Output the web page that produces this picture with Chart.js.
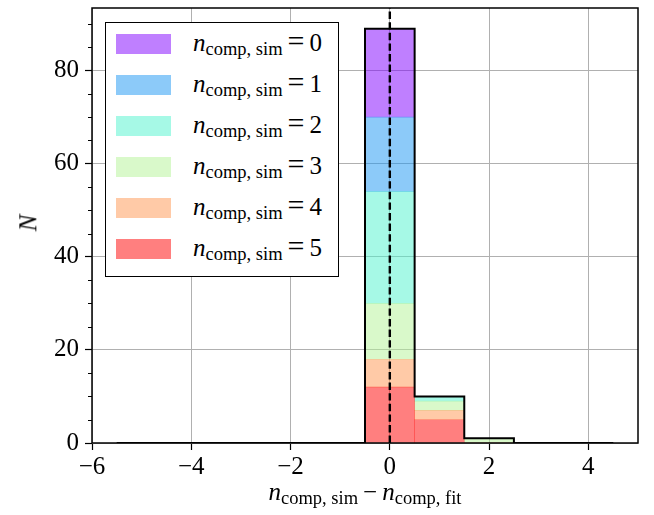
<!DOCTYPE html>
<html lang="en">
<head>
    <meta charset="UTF-8">
    <title>n_comp,sim - n_comp,fit histogram</title>
    <script src="https://cdn.jsdelivr.net/npm/chart.js"></script>
    <style>
        body {
            margin: 0;
            background: #fff;
        }

        #wrap {
            position: relative;
            width: 654px;
            height: 515px;
            font-family: "Liberation Serif", "DejaVu Serif", serif;
            color: #000;
        }

        #chart {
            position: absolute;
            left: 0;
            top: 0;
        }

        .math sub {
            font-style: normal;
            font-size: 18.5px;
            vertical-align: -4px;
            line-height: 0;
        }

        .math .eq {
            font-size: 30px;
            margin: 0 5px 0 5px;
        }

        #legend {
            position: absolute;
            left: 105px;
            top: 22px;
            width: 232px;
            height: 253px;
            border: 1.5px solid #000;
            background: #fff;
        }

        .legend-row {
            position: absolute;
            left: 0;
            height: 20px;
            width: 100%;
        }

        .legend-row .swatch {
            position: absolute;
            left: 10px;
            top: 0;
            width: 55px;
            height: 20px;
        }

        .legend-row .label {
            position: absolute;
            left: 87px;
            top: -8px;
            font-size: 25px;
            line-height: 30px;
            white-space: nowrap;
        }

        #xtitle {
            position: absolute;
            left: 215px;
            width: 300px;
            top: 477px;
            text-align: center;
            font-size: 25px;
            line-height: 30px;
            white-space: nowrap;
        }

        #xtitle .minus {
            margin: 0 5px;
        }

        #ytitle {
            position: absolute;
            left: 20px;
            top: 208px;
            font-size: 25px;
            line-height: 30px;
            font-style: italic;
            transform: rotate(-90deg);
        }
    </style>
</head>
<body>
    <div id="wrap">
        <canvas id="chart" width="654" height="515"></canvas>
        <div id="legend"></div>
        <div id="xtitle" class="math"><i>n</i><sub>comp, sim</sub><span class="minus">&minus;</span><i>n</i><sub>comp, fit</sub></div>
        <div id="ytitle">N</div>
    </div>

    <script>
        // bin centres of the histogram (bin width 1)
        const binCenters = [-5, -4, -3, -2, -1, 0, 1, 2, 3, 4];
        const binWidth = 1;

        // counts per n_comp,sim value, one array per stacked component
        const countsSim0 = [0, 0, 0, 0, 0, 19, 0, 0, 0, 0];
        const countsSim1 = [0, 0, 0, 0, 0, 16, 0, 0, 0, 0];
        const countsSim2 = [0, 0, 0, 0, 0, 24, 1, 0, 0, 0];
        const countsSim3 = [0, 0, 0, 0, 0, 12, 2, 1, 0, 0];
        const countsSim4 = [0, 0, 0, 0, 0, 6, 2, 0, 0, 0];
        const countsSim5 = [0, 0, 0, 0, 0, 12, 5, 0, 0, 0];

        const simLabels = ["0", "1", "2", "3", "4", "5"];
        const simColors = [
            "rgba(128, 0, 255, 0.5)",
            "rgba(26, 150, 243, 0.5)",
            "rgba(77, 243, 206, 0.5)",
            "rgba(179, 243, 150, 0.5)",
            "rgba(255, 150, 79, 0.5)",
            "rgba(255, 0, 0, 0.5)"
        ];
        const allCounts = [countsSim0, countsSim1, countsSim2, countsSim3, countsSim4, countsSim5];

        const xTicks = [-6, -4, -2, 0, 2, 4];
        const yMajorTicks = [0, 20, 40, 60, 80];
        const refLineX = 0;
        const xMin = -6, xMax = 5;
        const yMin = 0, yMax = 93.45;

        // total per bin for the black step outline
        const totals = binCenters.map((c, i) => allCounts.reduce((s, arr) => s + arr[i], 0));
        const outline = [{ x: binCenters[0] - binWidth / 2, y: 0 }];
        binCenters.forEach((c, i) => outline.push({ x: c - binWidth / 2, y: totals[i] }));
        outline.push({ x: binCenters[binCenters.length - 1] + binWidth / 2, y: 0 });

        // stack from n=5 at the bottom up to n=0 on top
        const barSets = [];
        for (let k = allCounts.length - 1; k >= 0; k--) {
            barSets.push({
                type: "bar",
                label: "n_comp,sim = " + simLabels[k],
                data: binCenters.map((c, i) => ({ x: c, y: allCounts[k][i] })),
                backgroundColor: simColors[k],
                borderWidth: 0,
                barPercentage: 1,
                categoryPercentage: 1,
                stack: "hist",
                order: 1
            });
        }

        const tickFont = { family: "'Liberation Serif', serif", size: 25 };

        const framePlugin = {
            id: "frame",
            afterDraw(chart) {
                const { ctx, chartArea } = chart;
                const y = chart.scales.y;
                ctx.save();
                // minor ticks on y every 5
                ctx.strokeStyle = "#000";
                ctx.lineWidth = 1;
                y.ticks.forEach(t => {
                    if (yMajorTicks.includes(t.value)) return;
                    const py = Math.round(y.getPixelForValue(t.value)) + 0.5;
                    ctx.beginPath();
                    ctx.moveTo(chartArea.left - 4, py);
                    ctx.lineTo(chartArea.left, py);
                    ctx.stroke();
                });
                ctx.lineWidth = 1.5;
                ctx.strokeRect(chartArea.left, chartArea.top,
                    chartArea.right - chartArea.left, chartArea.bottom - chartArea.top);
                ctx.restore();
            }
        };

        new Chart(document.getElementById("chart"), {
            data: {
                datasets: [
                    ...barSets,
                    {
                        type: "line",
                        label: "outline",
                        data: outline,
                        stepped: "before",
                        borderColor: "#000",
                        borderWidth: 2,
                        pointRadius: 0,
                        fill: false,
                        stack: "outline",
                        order: -1
                    },
                    {
                        type: "line",
                        label: "zero",
                        data: [{ x: refLineX, y: yMin }, { x: refLineX, y: yMax }],
                        borderColor: "#000",
                        borderWidth: 2.4,
                        borderDash: [7.4, 3.2],
                        pointRadius: 0,
                        fill: false,
                        stack: "ref",
                        order: -2
                    }
                ]
            },
            options: {
                responsive: false,
                animation: false,
                layout: { padding: { left: 0, right: 16, top: 8, bottom: 0 } },
                plugins: {
                    legend: { display: false },
                    tooltip: { enabled: false }
                },
                scales: {
                    x: {
                        type: "linear",
                        stacked: true,
                        offset: false,
                        min: xMin,
                        max: xMax,
                        border: { display: false },
                        grid: {
                            offset: false,
                            color: "#b0b0b0",
                            lineWidth: 1,
                            tickColor: "#000",
                            tickLength: 7,
                            tickWidth: 1.2
                        },
                        afterBuildTicks: (scale) => {
                            scale.ticks = xTicks.map(v => ({ value: v }));
                        },
                        ticks: {
                            font: tickFont,
                            color: "#000",
                            padding: 2,
                            maxRotation: 0,
                            autoSkip: false,
                            callback: (v) => String(v).replace("-", "\u2212")
                        },
                        afterFit: (scale) => { scale.height = 72; }
                    },
                    y: {
                        stacked: true,
                        min: yMin,
                        max: yMax,
                        border: { display: false },
                        grid: {
                            color: (c) => yMajorTicks.includes(c.tick.value) ? "#b0b0b0" : "transparent",
                            lineWidth: 1,
                            tickColor: (c) => yMajorTicks.includes(c.tick.value) ? "#000" : "transparent",
                            tickLength: 7,
                            tickWidth: 1.2
                        },
                        ticks: {
                            stepSize: 5,
                            includeBounds: false,
                            autoSkip: false,
                            font: tickFont,
                            color: "#000",
                            padding: 6,
                            callback: (v) => yMajorTicks.includes(v) ? String(v) : ""
                        },
                        afterFit: (scale) => {
                            scale.width = 92;
                            scale.paddingTop = 0;
                            scale.paddingBottom = 0;
                        }
                    }
                }
            },
            plugins: [framePlugin]
        });

        // legend, n=0 on top
        const legend = document.getElementById("legend");
        simLabels.forEach((lab, k) => {
            const row = document.createElement("div");
            row.className = "legend-row";
            row.style.top = (11 + 41 * k) + "px";
            row.innerHTML = `
                <div class="swatch" style="background:${simColors[k]}"></div>
                <div class="label math"><i>n</i><sub>comp, sim</sub><span class="eq">=</span>${lab}</div>
            `;
            legend.appendChild(row);
        });
    </script>
</body>
</html>
